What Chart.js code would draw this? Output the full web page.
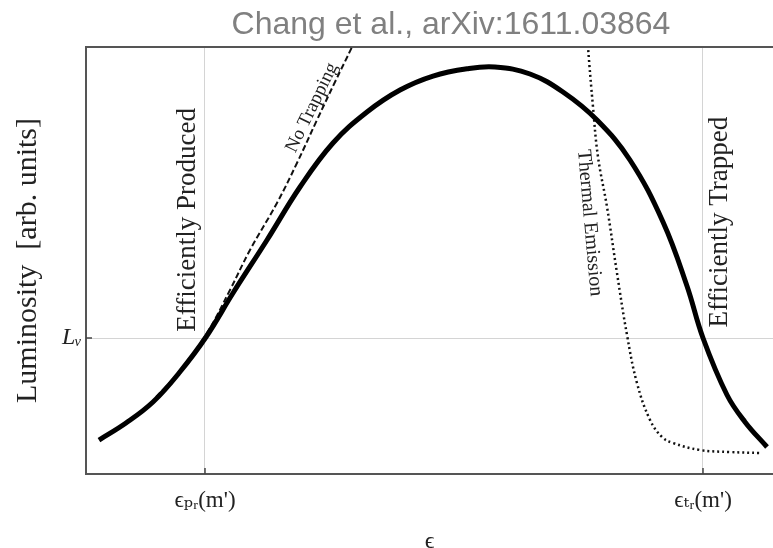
<!DOCTYPE html>
<html>
<head>
<meta charset="utf-8">
<script src="https://cdn.jsdelivr.net/npm/chart.js@4.4.1/dist/chart.umd.min.js"></script>
<style>
  body { margin: 0; background: #fff; }
  #wrap { width: 773px; height: 548px; position: relative; }
</style>
</head>
<body>
<div id="wrap"><canvas id="lumChart"></canvas></div>
<script>
// curve data (x: epsilon, y: luminosity, arbitrary units 0..100)
const mainX = [1.89, 5.82, 9.75, 13.54, 17.47, 21.40, 26.35, 31.15, 35.95, 40.90, 45.71, 50.51, 55.46, 59.53, 64.63, 69.43, 74.38, 79.18, 83.99, 87.48, 89.81, 93.31, 95.92, 99.13];
const mainY = [7.96, 11.94, 16.86, 23.65, 32.08, 42.39, 54.80, 67.21, 77.52, 84.78, 89.93, 93.20, 94.90, 95.30, 93.68, 89.46, 82.90, 73.54, 59.02, 44.03, 31.85, 18.50, 12.20, 6.32];

const noTrapX = [10.19, 13.68, 17.61, 20.96, 23.87, 27.80, 30.71, 33.62, 36.24, 38.72, 40.17];
const noTrapY = [18.03, 24.12, 33.02, 43.09, 52.46, 63.47, 72.83, 82.90, 91.80, 100.0, 105.15];

const thermalX = [72.93, 73.07, 73.80, 74.53, 75.84, 77.29, 78.75, 80.20, 82.10, 83.84, 85.44, 89.37, 93.74, 98.11];
const thermalY = [103.98, 100.0, 85.95, 74.24, 62.53, 47.07, 32.55, 21.31, 12.65, 8.67, 7.26, 5.62, 5.15, 4.92];

const xTickValues = [17.32, 89.81];
const xTickLabels = ["ϵₚᵣ(m')", "ϵₜᵣ(m')"];
const yTickValues = [31.85];
const yTickLabels = ["Lᵥ"];

const toPoints = (xs, ys) => xs.map((x, i) => ({x: x, y: ys[i]}));

const serif = "'Liberation Serif', 'DejaVu Serif', serif";

// text labels placed in data coordinates
const notes = [
  {text: 'Efficiently Produced', x: 14.85, y: 59.5, rot: -90, size: 27},
  {text: 'Efficiently Trapped', x: 92.29, y: 59.0, rot: -90, size: 27},
  {text: 'Thermal Emission', x: 73.3, y: 58.8, rot: 85, size: 20},
  {text: 'No Trapping', x: 32.9, y: 85.8, rot: -64, size: 19}
];

const extras = {
  id: 'extras',
  afterDraw(chart) {
    const c = chart.ctx;
    const xs = chart.scales.x, ys = chart.scales.y;
    const area = chart.chartArea;
    c.save();
    // source caption
    c.font = "32px 'Liberation Sans', Arial, sans-serif";
    c.fillStyle = '#808080';
    c.textAlign = 'center';
    c.textBaseline = 'alphabetic';
    c.fillText('Chang et al., arXiv:1611.03864', 451, 34);
    // inward tick marks
    c.strokeStyle = '#444';
    c.lineWidth = 1.5;
    xTickValues.forEach(v => {
      const px = xs.getPixelForValue(v);
      c.beginPath(); c.moveTo(px, area.bottom); c.lineTo(px, area.bottom - 6); c.stroke();
    });
    yTickValues.forEach(v => {
      const py = ys.getPixelForValue(v);
      c.beginPath(); c.moveTo(area.left, py); c.lineTo(area.left + 6, py); c.stroke();
    });
    // annotations
    c.fillStyle = '#222';
    c.textBaseline = 'middle';
    notes.forEach(n => {
      c.save();
      c.translate(xs.getPixelForValue(n.x), ys.getPixelForValue(n.y));
      c.rotate(n.rot * Math.PI / 180);
      c.font = n.size + 'px ' + serif;
      c.fillText(n.text, 0, 0);
      c.restore();
    });
    c.restore();
  }
};

new Chart(document.getElementById('lumChart'), {
  type: 'line',
  data: {
    datasets: [
      {
        label: 'Luminosity',
        data: toPoints(mainX, mainY),
        borderColor: '#000',
        borderWidth: 5,
        pointRadius: 0,
        tension: 0.4
      },
      {
        label: 'No Trapping',
        data: toPoints(noTrapX, noTrapY),
        borderColor: '#111',
        borderWidth: 2,
        borderDash: [6, 3],
        pointRadius: 0,
        tension: 0.4
      },
      {
        label: 'Thermal Emission',
        data: toPoints(thermalX, thermalY),
        borderColor: '#111',
        borderWidth: 2.5,
        borderDash: [2, 3],
        pointRadius: 0,
        tension: 0.4
      }
    ]
  },
  options: {
    responsive: true,
    maintainAspectRatio: false,
    animation: false,
    layout: { padding: { top: 47, right: 0, left: 0, bottom: 0 } },
    plugins: {
      legend: { display: false },
      tooltip: { enabled: false },
      title: { display: false }
    },
    scales: {
      x: {
        type: 'linear',
        min: 0,
        max: 100,
        afterBuildTicks: (axis) => { axis.ticks = xTickValues.map(v => ({value: v})); },
        afterFit: (s) => { s.height = 74; },
        ticks: {
          callback: (v, i) => xTickLabels[i],
          font: { family: serif, size: 23 },
          color: '#222',
          padding: 13,
          maxRotation: 0
        },
        grid: { color: '#d4d4d4', lineWidth: 1, drawTicks: false },
        border: { display: true, color: '#555', width: 2 },
        title: {
          display: true,
          text: 'ϵ',
          font: { family: serif, size: 24 },
          color: '#222',
          padding: { top: 0, bottom: -8 }
        }
      },
      x2: {
        type: 'linear',
        position: 'top',
        min: 0,
        max: 100,
        afterFit: (s) => { s.height = 0; },
        ticks: { display: false },
        grid: { display: false, drawTicks: false },
        border: { display: true, color: '#555', width: 2 }
      },
      y: {
        min: 0,
        max: 100,
        afterBuildTicks: (axis) => { axis.ticks = yTickValues.map(v => ({value: v})); },
        afterFit: (s) => { s.width = 86; },
        ticks: {
          callback: (v, i) => yTickLabels[i],
          font: { family: serif, size: 24, style: 'italic' },
          color: '#222',
          padding: 4
        },
        grid: { color: '#d4d4d4', lineWidth: 1, drawTicks: false },
        border: { display: true, color: '#555', width: 2 },
        title: {
          display: true,
          text: 'Luminosity  [arb. units]',
          font: { family: serif, size: 30 },
          color: '#222',
          padding: { top: 10, bottom: 0 }
        }
      }
    }
  },
  plugins: [extras]
});
</script>
</body>
</html>
